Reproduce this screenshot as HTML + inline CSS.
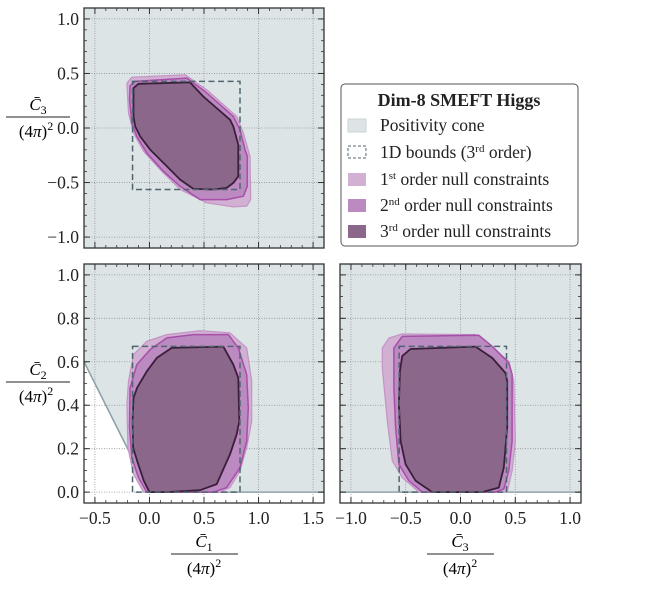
<!DOCTYPE html>
<html><head><meta charset="utf-8"><style>
body{margin:0;background:#fff;width:664px;height:584px;overflow:hidden}
svg{font-family:"Liberation Serif","DejaVu Serif",serif}
</style></head><body>
<svg id="c" width="664" height="584" xmlns="http://www.w3.org/2000/svg" font-family="Liberation Serif, serif"></svg>
<script>
// Polygon data (x,y pairs in data coords)
const tlLight=[[-0.207,0.412],[-0.162,0.466],[0.327,0.488],[0.525,0.351],[0.800,0.106],[0.861,-0.046],[0.922,-0.259],[0.928,-0.656],[0.891,-0.717],[0.769,-0.723],[0.525,-0.686],[0.281,-0.564],[0.098,-0.381],[-0.055,-0.213],[-0.146,-0.046],[-0.192,0.137]];
const tlMed=[[-0.177,0.387],[-0.131,0.427],[0.342,0.457],[0.510,0.335],[0.769,0.106],[0.830,-0.015],[0.876,-0.198],[0.897,-0.259],[0.897,-0.534],[0.861,-0.625],[0.708,-0.656],[0.464,-0.656],[0.281,-0.534],[0.128,-0.397],[-0.024,-0.229],[-0.116,-0.077],[-0.162,0.046],[-0.183,0.259]];
const tlDark=[[-0.146,0.366],[-0.100,0.405],[0.372,0.418],[0.494,0.289],[0.738,0.076],[0.769,0.015],[0.814,-0.153],[0.814,-0.443],[0.769,-0.503],[0.708,-0.549],[0.586,-0.564],[0.403,-0.558],[0.281,-0.473],[0.159,-0.351],[0.006,-0.198],[-0.085,-0.077],[-0.131,0.015],[-0.146,0.106]];
const blLight=[[-0.055,0],[-0.146,0.083],[-0.198,0.205],[-0.207,0.404],[-0.192,0.511],[-0.146,0.633],[-0.024,0.694],[0.159,0.725],[0.464,0.743],[0.738,0.733],[0.891,0.664],[0.937,0.511],[0.937,0.327],[0.891,0.205],[0.830,0.098],[0.738,0.021],[0.647,0]];
const blMed=[[-0.024,0],[-0.100,0.067],[-0.162,0.159],[-0.183,0.297],[-0.177,0.480],[-0.116,0.587],[0.006,0.656],[0.159,0.710],[0.403,0.725],[0.723,0.725],[0.814,0.664],[0.891,0.541],[0.906,0.388],[0.891,0.235],[0.830,0.113],[0.708,0.021],[0.586,0]];
const blDark=[[0,0],[-0.052,0.052],[-0.113,0.144],[-0.150,0.205],[-0.155,0.327],[-0.146,0.434],[-0.113,0.480],[-0.024,0.556],[0.067,0.618],[0.204,0.664],[0.677,0.670],[0.769,0.587],[0.814,0.526],[0.824,0.327],[0.800,0.266],[0.738,0.174],[0.616,0.037],[0.464,0.009],[0.159,0]];
const brLight=[[-0.714,0.664],[-0.653,0.710],[-0.532,0.728],[0.137,0.725],[0.258,0.679],[0.441,0.602],[0.486,0.511],[0.501,0.235],[0.471,0.098],[0.426,0],[-0.380,0],[-0.532,0.067],[-0.623,0.144],[-0.668,0.327],[-0.714,0.572]];
const brMed=[[-0.608,0.664],[-0.532,0.717],[0.167,0.722],[0.289,0.671],[0.441,0.595],[0.471,0.541],[0.471,0.235],[0.441,0.098],[0.395,0.014],[0.319,0],[-0.349,0],[-0.471,0.052],[-0.562,0.128],[-0.592,0.297],[-0.608,0.480]];
const brDark=[[-0.532,0.626],[-0.456,0.659],[0.137,0.670],[0.289,0.618],[0.410,0.549],[0.426,0.511],[0.426,0.297],[0.395,0.113],[0.350,0.021],[0.198,0],[-0.258,0],[-0.410,0.052],[-0.501,0.128],[-0.547,0.235],[-0.562,0.404],[-0.553,0.556]];
const tlBox=[-0.155,0.83,-0.564,0.427];
const blBox=[-0.155,0.83,0,0.671];
const brBox=[-0.56,0.42,0,0.671];
const ticksX1=[-0.5,0,0.5,1.0,1.5];
const ticksY1=[-1.0,-0.5,0,0.5,1.0];
const ticksY2=[0,0.2,0.4,0.6,0.8,1.0];
const ticksX3=[-1.0,-0.5,0,0.5,1.0];

const NS="http://www.w3.org/2000/svg";
const svg=document.getElementById('c');
function el(t,a,p){const e=document.createElementNS(NS,t);for(const k in a)e.setAttribute(k,a[k]);(p||svg).appendChild(e);return e;}
function panel(name,px0,px1,py0,py1,xmin,xmax,ymin,ymax){
  const g=el('g',{});
  
  
  const sx=v=>px0+(v-xmin)/(xmax-xmin)*(px1-px0);
  const sy=v=>py1-(v-ymin)/(ymax-ymin)*(py1-py0);
  return {g,sx,sy,px0,px1,py0,py1};
}
function poly(P,pts,fill,stroke,sw,name){
  const p=el('polygon',{points:pts.map(q=>P.sx(q[0]).toFixed(1)+','+P.sy(q[1]).toFixed(1)).join(' '),fill:fill,stroke:stroke,'stroke-width':sw,'stroke-linejoin':'round'},P.g);
  
  
}
function box(P,b,name){
  const r=el('rect',{x:P.sx(b[0]),y:P.sy(b[3]),width:P.sx(b[1])-P.sx(b[0]),height:P.sy(b[2])-P.sy(b[3]),fill:'none',stroke:'#4f6670','stroke-width':1.5,'stroke-dasharray':'6,3.5'},P.g);
  
  
}
function grid(P,xt,yt){
  xt.forEach(v=>el('line',{x1:P.sx(v),x2:P.sx(v),y1:P.py0,y2:P.py1,stroke:'#8a9498','stroke-width':0.8,'stroke-dasharray':'1,1.5'},P.g));
  yt.forEach(v=>el('line',{x1:P.px0,x2:P.px1,y1:P.sy(v),y2:P.sy(v),stroke:'#8a9498','stroke-width':0.8,'stroke-dasharray':'1,1.5'},P.g));
}
function axes(P,xt,yt,xlab,ylab,xminor,yminor){
  el('rect',{x:P.px0,y:P.py0,width:P.px1-P.px0,height:P.py1-P.py0,fill:'none',stroke:'#333','stroke-width':1.3},P.g);
  xt.forEach(v=>{const x=P.sx(v);
    el('line',{x1:x,x2:x,y1:P.py1,y2:P.py1-6,stroke:'#333','stroke-width':1},P.g);
    el('line',{x1:x,x2:x,y1:P.py0,y2:P.py0+6,stroke:'#333','stroke-width':1},P.g);
    if(xlab){const t=el('text',{x:x,y:P.py1+21,'text-anchor':'middle','font-size':17.5,fill:'#222'},P.g);t.textContent=(v<0?'\u2212':'')+Math.abs(v).toFixed(1);
      
      }
  });
  xminor.forEach(v=>{const x=P.sx(v);
    el('line',{x1:x,x2:x,y1:P.py1,y2:P.py1-3,stroke:'#333','stroke-width':0.8},P.g);
    el('line',{x1:x,x2:x,y1:P.py0,y2:P.py0+3,stroke:'#333','stroke-width':0.8},P.g);});
  yt.forEach(v=>{const y=P.sy(v);
    el('line',{x1:P.px0,x2:P.px0+6,y1:y,y2:y,stroke:'#333','stroke-width':1},P.g);
    el('line',{x1:P.px1,x2:P.px1-6,y1:y,y2:y,stroke:'#333','stroke-width':1},P.g);
    if(ylab){const t=el('text',{x:P.px0-5,y:y+6,'text-anchor':'end','font-size':17.5,fill:'#222'},P.g);t.textContent=(v<0?'\u2212':'')+Math.abs(v).toFixed(1);
      
      }
  });
  yminor.forEach(v=>{const y=P.sy(v);
    el('line',{x1:P.px0,x2:P.px0+3,y1:y,y2:y,stroke:'#333','stroke-width':0.8},P.g);
    el('line',{x1:P.px1,x2:P.px1-3,y1:y,y2:y,stroke:'#333','stroke-width':0.8},P.g);});
}
function range(a,b,s){const r=[];for(let v=a;v<=b+1e-9;v+=s)r.push(+v.toFixed(3));return r;}
const cL='#d2b0d3',cLs='#c493c6',cM='#ba8ac0',cMs='#a64fa8',cD='#8b678b',cDs='#3a1f3a',bg='#dde4e5';

// Top-left
let P=panel('panel-c1-c3',84,324,8,248,-0.6,1.6,-1.1,1.1);
el('rect',{x:84,y:8,width:240,height:240,fill:bg},P.g);
grid(P,ticksX1,ticksY1);
poly(P,tlLight,cL,cLs,1.2,'region-1st-order');
poly(P,tlMed,cM,cMs,1.5,'region-2nd-order');
poly(P,tlDark,cD,cDs,1.8,'region-3rd-order');
box(P,tlBox,'bounds-1d-box');
axes(P,ticksX1,ticksY1,false,true,range(-0.6,1.6,0.1),range(-1.1,1.1,0.1));

// Bottom-left
P=panel('panel-c1-c2',84,324,264,503,-0.6,1.6,-0.05,1.05);
{const pts=[[-0.6,1.05],[1.6,1.05],[1.6,0],[0,0],[-0.6,0.6]].map(q=>P.sx(q[0])+','+P.sy(q[1])).join(' ');
 const c=el('polygon',{points:pts,fill:bg},P.g);
 
 }
grid(P,ticksX1,ticksY2);
el('polyline',{points:[P.sx(-0.6)+','+P.sy(0.6),P.sx(0)+','+P.sy(0),P.sx(1.6)+','+P.sy(0)].join(' '),fill:'none',stroke:'#8fa3aa','stroke-width':1.6},P.g);
poly(P,blLight,cL,cLs,1.2,'region-1st-order');
poly(P,blMed,cM,cMs,1.5,'region-2nd-order');
poly(P,blDark,cD,cDs,1.8,'region-3rd-order');
box(P,blBox,'bounds-1d-box');
axes(P,ticksX1,ticksY2,true,true,range(-0.6,1.6,0.1),range(0,1.0,0.05));

// Bottom-right
P=panel('panel-c3-c2',340,581,264,503,-1.1,1.1,-0.05,1.05);
el('rect',{x:340,y:P.sy(1.05),width:241,height:P.sy(0)-P.sy(1.05),fill:bg},P.g);
grid(P,ticksX3,ticksY2);
el('line',{x1:340,x2:581,y1:P.sy(0),y2:P.sy(0),stroke:'#8fa3aa','stroke-width':1.6},P.g);
poly(P,brLight,cL,cLs,1.2,'region-1st-order');
poly(P,brMed,cM,cMs,1.5,'region-2nd-order');
poly(P,brDark,cD,cDs,1.8,'region-3rd-order');
box(P,brBox,'bounds-1d-box');
axes(P,ticksX3,ticksY2,true,false,range(-1.1,1.1,0.1),range(0,1.0,0.05));
</script>
<!-- axis labels -->
<svg width="664" height="584" style="position:absolute;left:0;top:0" font-family="Liberation Serif, serif" font-style="italic">
<g>
<text x="38" y="110" text-anchor="middle" font-size="17">C̄<tspan font-size="12" dy="4" font-style="normal">3</tspan></text>
<line x1="6" x2="70" y1="117" y2="117" stroke="#222" stroke-width="1"/>
<text x="36" y="137" text-anchor="middle" font-size="17" font-style="normal">(4<tspan font-style="italic">π</tspan>)<tspan font-size="12" dy="-7">2</tspan></text>
</g>
<g>
<text x="38" y="375" text-anchor="middle" font-size="17">C̄<tspan font-size="12" dy="4" font-style="normal">2</tspan></text>
<line x1="6" x2="70" y1="382" y2="382" stroke="#222" stroke-width="1"/>
<text x="36" y="402" text-anchor="middle" font-size="17" font-style="normal">(4<tspan font-style="italic">π</tspan>)<tspan font-size="12" dy="-7">2</tspan></text>
</g>
<g>
<text x="204" y="547" text-anchor="middle" font-size="17">C̄<tspan font-size="12" dy="4" font-style="normal">1</tspan></text>
<line x1="171" x2="238" y1="554" y2="554" stroke="#222" stroke-width="1"/>
<text x="204" y="574" text-anchor="middle" font-size="17" font-style="normal">(4<tspan font-style="italic">π</tspan>)<tspan font-size="12" dy="-7">2</tspan></text>
</g>
<g>
<text x="460" y="547" text-anchor="middle" font-size="17">C̄<tspan font-size="12" dy="4" font-style="normal">3</tspan></text>
<line x1="427" x2="494" y1="554" y2="554" stroke="#222" stroke-width="1"/>
<text x="460" y="574" text-anchor="middle" font-size="17" font-style="normal">(4<tspan font-style="italic">π</tspan>)<tspan font-size="12" dy="-7">2</tspan></text>
</g>
<g font-style="normal" font-size="17.5" fill="#222">
<rect x="341" y="84" width="237" height="162" rx="4" fill="#fff" stroke="#555" stroke-width="1"/>
<text x="459" y="106" text-anchor="middle" font-weight="bold" font-size="18">Dim-8 SMEFT Higgs</text>
<g><rect x="348" y="119" width="18" height="13" fill="#dde4e5" stroke="#ccd3d5"/><text x="380" y="131">Positivity cone</text></g>
<g><rect x="348" y="146" width="18" height="12" fill="none" stroke="#4f6670" stroke-dasharray="3,2"/><text x="380" y="158">1D bounds (3<tspan font-size="11" dy="-6">rd</tspan><tspan dy="6"> order)</tspan></text></g>
<g><rect x="348" y="173" width="18" height="13" fill="#d2b0d3"/><text x="380" y="185">1<tspan font-size="11" dy="-6">st</tspan><tspan dy="6"> order null constraints</tspan></text></g>
<g><rect x="348" y="199" width="18" height="13" fill="#ba8ac0"/><text x="380" y="211">2<tspan font-size="11" dy="-6">nd</tspan><tspan dy="6"> order null constraints</tspan></text></g>
<g><rect x="348" y="225" width="18" height="13" fill="#8b678b"/><text x="380" y="237">3<tspan font-size="11" dy="-6">rd</tspan><tspan dy="6"> order null constraints</tspan></text></g>
</g>
</svg>
</body></html>
